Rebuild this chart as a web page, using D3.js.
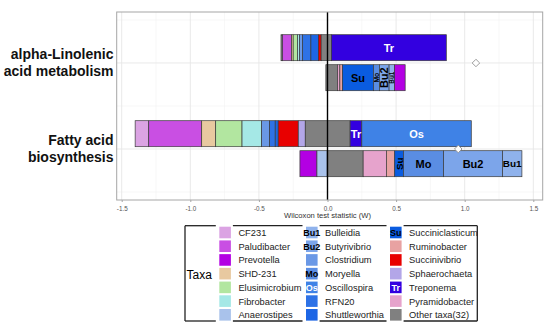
<!DOCTYPE html>
<html>
<head>
<meta charset="utf-8">
<script src="https://cdn.jsdelivr.net/npm/d3@7"></script>
<style>
  body { margin: 0; background: #fff; }
  svg { display: block; font-family: Arial, "Liberation Sans", sans-serif; }
</style>
</head>
<body>
<svg width="550" height="331"></svg>
<script>
// pathways and the two stacked bars drawn for each of them
const pathways = ['alpha-Linolenic acid metabolism', 'Fatty acid biosynthesis'];
const pathwayLines = [['alpha-Linolenic', 'acid metabolism'], ['Fatty acid', 'biosynthesis']];
const barRows = ['up', 'down'];

// taxa of each bar, left to right, with the segment breaks (W)
const alphaUpTaxa = ['Other', 'Paludibacter', 'SHD-231', 'Elusimicrobium', 'Fibrobacter', 'Clostridium',
  'RFN20', 'Shuttleworthia', 'Succinivibrio', 'Other', 'Treponema'];
const alphaUpBreaks = [-0.339, -0.328, -0.262, -0.250, -0.218, -0.204, -0.182, -0.121, -0.066, -0.046, 0.029, 0.866];

const alphaDownTaxa = ['Other', 'Pyramidobacter', 'Ruminobacter', 'Succiniclasticum', 'Moryella',
  'Butyrivibrio', 'Bulleidia', 'Prevotella'];
const alphaDownBreaks = [-0.012, 0.073, 0.090, 0.109, 0.335, 0.378, 0.449, 0.489, 0.566];

const fattyUpTaxa = ['CF231', 'Paludibacter', 'SHD-231', 'Elusimicrobium', 'Fibrobacter', 'Clostridium',
  'RFN20', 'Shuttleworthia', 'Succinivibrio', 'Sphaerochaeta', 'Other', 'Treponema', 'Oscillospira'];
const fattyUpBreaks = [-1.402, -1.303, -0.917, -0.815, -0.623, -0.480, -0.422, -0.381, -0.359, -0.213, -0.162, 0.165, 0.250, 1.048];

const fattyDownTaxa = ['Prevotella', 'Anaerostipes', 'Other', 'Pyramidobacter', 'Ruminobacter',
  'Succiniclasticum', 'Moryella', 'Butyrivibrio', 'Bulleidia'];
const fattyDownBreaks = [-0.201, -0.077, -0.002, 0.260, 0.429, 0.490, 0.553, 0.846, 1.276, 1.417];

// overall shift statistic (diamond)
const shiftValues = [1.082, 0.953];

const xTicks = [-1.5, -1.0, -0.5, 0.0, 0.5, 1.0, 1.5];

// legend
const legendTaxa = [
  ['CF231', 'Paludibacter', 'Prevotella', 'SHD-231', 'Elusimicrobium', 'Fibrobacter', 'Anaerostipes'],
  ['Bulleidia', 'Butyrivibrio', 'Clostridium', 'Moryella', 'Oscillospira', 'RFN20', 'Shuttleworthia'],
  ['Succiniclasticum', 'Ruminobacter', 'Succinivibrio', 'Sphaerochaeta', 'Treponema', 'Pyramidobacter', 'Other']
];
const legendNames = { Other: 'Other taxa(32)' };
const shortNames = { Bulleidia: 'Bu1', Butyrivibrio: 'Bu2', Moryella: 'Mo', Oscillospira: 'Os',
  Succiniclasticum: 'Su', Treponema: 'Tr' };

const taxaColors = {
  'CF231': '#dba3e3', 'Paludibacter': '#c94fe3', 'Prevotella': '#b300e3', 'SHD-231': '#e8c9a0',
  'Elusimicrobium': '#b2e6a0', 'Fibrobacter': '#a5e8e6', 'Anaerostipes': '#a9c2eb',
  'Bulleidia': '#8fb2ec', 'Butyrivibrio': '#7ca5ea', 'Clostridium': '#6a98e6', 'Moryella': '#5a8de3',
  'Oscillospira': '#3f82e6', 'RFN20': '#2e72e6', 'Shuttleworthia': '#1d66e5', 'Succiniclasticum': '#0a5ce0',
  'Ruminobacter': '#e8a2a2', 'Succinivibrio': '#e80000', 'Sphaerochaeta': '#b3a6e8', 'Treponema': '#3300e0',
  'Pyramidobacter': '#e6a3cc', 'Other': '#808080'
};
const whiteText = new Set(['Treponema', 'Oscillospira']);

const svg = d3.select('svg');
const panel = { left: 116.7, right: 542.7, top: 12, bottom: 200 };

const x = d3.scaleLinear().domain([-1.5, 1.5]).range([121.7, 533.3]);
const y = d3.scalePoint().domain(pathways).range([panel.top, panel.bottom]).padding(0.593);
const sub = d3.scaleBand().domain(barRows).range([-28.3, 27.7]).paddingInner(0.1333);

const bars = [
  { path: pathways[0], row: 'up', taxa: alphaUpTaxa, breaks: alphaUpBreaks },
  { path: pathways[0], row: 'down', taxa: alphaDownTaxa, breaks: alphaDownBreaks },
  { path: pathways[1], row: 'up', taxa: fattyUpTaxa, breaks: fattyUpBreaks },
  { path: pathways[1], row: 'down', taxa: fattyDownTaxa, breaks: fattyDownBreaks }
];
const segments = bars.flatMap(b => b.taxa.map((t, i) => ({
  taxon: t, x0: b.breaks[i], x1: b.breaks[i + 1], y0: y(b.path) + sub(b.row)
})));

// grid
const grid = svg.append('g');
const minorX = d3.range(-1.25, 1.5, 0.5);
grid.selectAll('.minx').data(minorX).join('line')
  .attr('x1', d => x(d)).attr('x2', d => x(d))
  .attr('y1', panel.top).attr('y2', panel.bottom)
  .attr('stroke', '#f2f2f2').attr('stroke-width', 0.6);
const step = y.step();
const minorY = [y(pathways[0]) - step / 2, y(pathways[0]) + step / 2, y(pathways[1]) + step / 2];
grid.selectAll('.miny').data(minorY).join('line')
  .attr('x1', panel.left).attr('x2', panel.right)
  .attr('y1', d => d).attr('y2', d => d)
  .attr('stroke', '#f2f2f2').attr('stroke-width', 0.6);
grid.selectAll('.majx').data(xTicks).join('line')
  .attr('x1', d => x(d)).attr('x2', d => x(d))
  .attr('y1', panel.top).attr('y2', panel.bottom)
  .attr('stroke', '#e6e6e6').attr('stroke-width', 0.9);
grid.selectAll('.majy').data(pathways).join('line')
  .attr('x1', panel.left).attr('x2', panel.right)
  .attr('y1', d => y(d)).attr('y2', d => y(d))
  .attr('stroke', '#e6e6e6').attr('stroke-width', 0.9);

// bars
svg.append('g').selectAll('rect').data(segments).join('rect')
  .attr('x', d => x(d.x0))
  .attr('y', d => d.y0)
  .attr('width', d => x(d.x1) - x(d.x0))
  .attr('height', sub.bandwidth())
  .attr('fill', d => taxaColors[d.taxon])
  .attr('stroke', '#3a3a3a')
  .attr('stroke-width', 0.7);

// labels inside segments, shrunk or turned to fit
const labelG = svg.append('g');
segments.filter(d => shortNames[d.taxon]).forEach(d => {
  const w = x(d.x1) - x(d.x0);
  const cx = (x(d.x0) + x(d.x1)) / 2;
  const cy = d.y0 + sub.bandwidth() / 2;
  const t = labelG.append('text')
    .text(shortNames[d.taxon])
    .attr('font-weight', 'bold')
    .attr('font-size', 11)
    .attr('fill', whiteText.has(d.taxon) ? '#fff' : '#000')
    .attr('text-anchor', 'middle')
    .attr('dominant-baseline', 'central');
  const len = t.node().getComputedTextLength();
  const fitH = 11 * (w - 0.5) / len;
  if (fitH >= 8) {
    t.attr('font-size', Math.min(11, fitH)).attr('x', cx).attr('y', cy);
  } else {
    const fs = Math.min(11, w * 1.15, 11 * (sub.bandwidth() - 3) / len);
    t.attr('font-size', fs)
      .attr('transform', `translate(${cx},${cy}) rotate(-90)`);
  }
});

// zero line
svg.append('line')
  .attr('x1', x(0)).attr('x2', x(0))
  .attr('y1', panel.top).attr('y2', panel.bottom)
  .attr('stroke', '#000').attr('stroke-width', 1.4);

// diamonds
svg.append('g').selectAll('path').data(shiftValues).join('path')
  .attr('d', d3.symbol(d3.symbolSquare, 28))
  .attr('transform', (d, i) => `translate(${x(d)},${y(pathways[i])}) rotate(45)`)
  .attr('fill', '#fff')
  .attr('stroke', '#8c8c8c')
  .attr('stroke-width', 0.8);

// panel border
svg.append('rect')
  .attr('x', panel.left).attr('y', panel.top)
  .attr('width', panel.right - panel.left).attr('height', panel.bottom - panel.top)
  .attr('fill', 'none').attr('stroke', '#a6a6a6').attr('stroke-width', 1);

// x axis
const xAxis = svg.append('g')
  .attr('transform', `translate(0,${panel.bottom})`)
  .call(d3.axisBottom(x).tickValues(xTicks).tickSize(2).tickFormat(d => d.toFixed(1)));
xAxis.select('.domain').remove();
xAxis.selectAll('line').attr('stroke', '#a6a6a6');
xAxis.selectAll('text').attr('font-size', 6.3).attr('fill', '#555').attr('dy', '0.9em')
  .attr('font-family', 'Arial, "Liberation Sans", sans-serif');

svg.append('text')
  .attr('x', x(0)).attr('y', 218)
  .attr('text-anchor', 'middle')
  .attr('font-size', 7.6)
  .attr('fill', '#333')
  .text('Wilcoxon test statistic (W)');

// y labels
pathways.forEach((p, i) => {
  const lines = pathwayLines[i];
  svg.append('text')
    .attr('x', 113.5)
    .attr('y', y(p) - 8.5)
    .attr('text-anchor', 'end')
    .attr('font-size', 14)
    .attr('font-weight', 'bold')
    .attr('fill', '#111')
    .selectAll('tspan').data(lines).join('tspan')
      .attr('x', 113.5)
      .attr('dy', (d, j) => j === 0 ? '0.35em' : 17)
      .text(d => d);
});

// legend
const lg = svg.append('g');
const box = { left: 185, right: 477.3, top: 225.7, bottom: 321 };
const colSwatchX = [219.3, 306, 390];
const sw = 11.6, rowStep = 13.72, rowTop = 226.7;

// border with gaps where key columns sit
const gaps = colSwatchX.map(c => [c - 3.5, c + sw + 2]);
const xs = [box.left, ...gaps.flat(), box.right];
const pieces = d3.range(0, xs.length, 2).map(i => [xs[i], xs[i + 1]]);
[box.top, box.bottom].forEach(yy => {
  lg.selectAll(null).data(pieces).join('line')
    .attr('x1', d => d[0]).attr('x2', d => d[1])
    .attr('y1', yy).attr('y2', yy)
    .attr('stroke', '#222').attr('stroke-width', 1.3);
});
[box.left, box.right].forEach(xx => {
  lg.append('line')
    .attr('x1', xx).attr('x2', xx)
    .attr('y1', box.top).attr('y2', box.bottom)
    .attr('stroke', '#222').attr('stroke-width', 1.3);
});

lg.append('text')
  .attr('x', 186.5).attr('y', 274.5)
  .attr('dominant-baseline', 'central')
  .attr('font-size', 12)
  .attr('fill', '#000')
  .text('Taxa');

legendTaxa.forEach((col, ci) => {
  const g = lg.append('g');
  const rows = g.selectAll('g').data(col).join('g')
    .attr('transform', (d, i) => `translate(${colSwatchX[ci]},${rowTop + i * rowStep})`);
  rows.append('rect')
    .attr('width', sw).attr('height', sw)
    .attr('fill', d => taxaColors[d]);
  rows.filter(d => shortNames[d]).append('text')
    .attr('x', sw / 2).attr('y', sw / 2 + 0.5)
    .attr('text-anchor', 'middle')
    .attr('dominant-baseline', 'central')
    .attr('font-size', 9)
    .attr('font-weight', 'bold')
    .attr('fill', d => whiteText.has(d) ? '#fff' : '#000')
    .text(d => shortNames[d]);
  rows.append('text')
    .attr('x', sw + 7.5).attr('y', sw / 2 + 0.5)
    .attr('dominant-baseline', 'central')
    .attr('font-size', 9.3)
    .attr('fill', '#222')
    .text(d => legendNames[d] || d);
});
</script>
</body>
</html>
